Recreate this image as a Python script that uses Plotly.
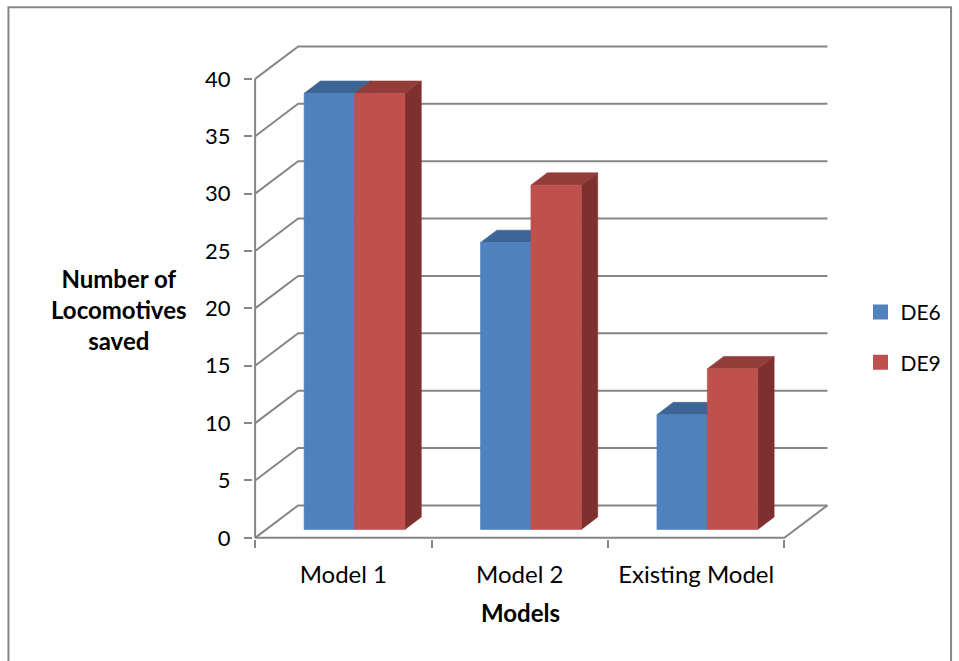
import plotly.graph_objects as go

# ---- data ----
categories = ["Model 1", "Model 2", "Existing Model"]
series_names = ["DE6", "DE9"]
de6_values = [38, 25, 10]
de9_values = [38, 30, 14]
y_ticks = [0, 5, 10, 15, 20, 25, 30, 35, 40]

# ---- styling ----
FONT = "Lato, 'Open Sans', sans-serif"
GRID = "#868686"
face_colors = {
    "DE6": {"front": "#4F81BD", "top": "#3C6595", "side": "#2F4E74"},
    "DE9": {"front": "#C0504D", "top": "#943C3A", "side": "#7D302E"},
}

# oblique projection: depth z in [0, 1] shifts a point right and up
DX = 0.244   # category units for full floor depth
DY = 2.83    # value units for full floor depth
Z0, Z1 = 0.26, 0.64          # bar depth span
BAR_W = 1 / 3.5              # two bars + 150% gap per category
GAP = 0.75 * BAR_W

n_cat = len(categories)
y_max = y_ticks[-1]


def proj(x, v, z):
    return x + z * DX, v + z * DY


fig = go.Figure()


def add_poly(pts, color):
    xs = [p[0] for p in pts] + [pts[0][0]]
    ys = [p[1] for p in pts] + [pts[0][1]]
    fig.add_trace(go.Scatter(x=xs, y=ys, mode="lines", fill="toself",
                             fillcolor=color, line=dict(color=color, width=0.6),
                             hoverinfo="skip", showlegend=False))


def add_line(pts, width=2):
    fig.add_trace(go.Scatter(x=[p[0] for p in pts], y=[p[1] for p in pts],
                             mode="lines", line=dict(color=GRID, width=width),
                             hoverinfo="skip", showlegend=False))


# gridlines: side-wall diagonal followed by back-wall horizontal
for v in y_ticks:
    a = proj(0, v, 0)
    b = proj(0, v, 1)
    c = proj(n_cat, v, 1)
    add_line([a, b, c])

# floor outline and front axes
add_line([proj(0, 0, 0), proj(n_cat, 0, 0), proj(n_cat, 0, 1)])
add_line([proj(0, 0, 0), proj(0, y_max, 0)])

# bars
for i in range(n_cat):
    for k, (name, vals) in enumerate([("DE6", de6_values), ("DE9", de9_values)]):
        v = vals[i]
        x0 = i + GAP + k * BAR_W
        x1 = x0 + BAR_W
        col = face_colors[name]
        # right side
        add_poly([proj(x1, 0, Z0), proj(x1, 0, Z1), proj(x1, v, Z1), proj(x1, v, Z0)], col["side"])
        # top
        add_poly([proj(x0, v, Z0), proj(x1, v, Z0), proj(x1, v, Z1), proj(x0, v, Z1)], col["top"])
        # front
        add_poly([proj(x0, 0, Z0), proj(x1, 0, Z0), proj(x1, v, Z0), proj(x0, v, Z0)], col["front"])

# legend entries
for k, name in enumerate(series_names):
    fig.add_trace(go.Scatter(x=[None], y=[None], mode="markers", name=name,
                             legendgroup=name,
                             marker=dict(symbol="square", size=15,
                                         color=face_colors[name]["front"])))

# ---- pixel layout of the plot area ----
W, H = 959, 661
PX_X0, PX_PER_CAT = 255.0, 176.3      # front category axis
PX_Y0, PX_PER_VAL = 538.0, 11.475     # front value axis
x_range = [-0.012, 3.27]
y_range = [-0.1, 43.3]
left = PX_X0 + x_range[0] * PX_PER_CAT
right = PX_X0 + x_range[1] * PX_PER_CAT
bottom = PX_Y0 - y_range[0] * PX_PER_VAL
top = PX_Y0 - y_range[1] * PX_PER_VAL
pw, ph = right - left, bottom - top


def paper_x(px):
    return (px - left) / pw


def paper_y(py):
    return (bottom - py) / ph


fig.update_layout(
    width=W, height=H,
    margin=dict(l=left, r=W - right, t=top, b=H - bottom, pad=0, autoexpand=False),
    paper_bgcolor="white", plot_bgcolor="white",
    font=dict(family=FONT, color="#000000"),
    showlegend=True,
    legend=dict(x=paper_x(860), y=paper_y(292), xanchor="left", yanchor="top",
                font=dict(size=21, family=FONT), tracegroupgap=20,
                itemwidth=30, bgcolor="rgba(0,0,0,0)"),
    xaxis=dict(range=x_range, showgrid=False, zeroline=False, showline=False,
               tickmode="array", tickvals=[i + 0.5 for i in range(n_cat)],
               ticktext=categories, ticks="", ticklabelstandoff=19,
               tickfont=dict(size=24, family=FONT, color="#000"),
               minor=dict(tickmode="array", tickvals=list(range(n_cat + 1)),
                          ticks="outside", ticklen=8, tickwidth=2, tickcolor=GRID,
                          showgrid=False),
               fixedrange=True),
    yaxis=dict(range=y_range, showgrid=False, zeroline=False, showline=False,
               tickmode="array", tickvals=y_ticks, ticktext=[str(t) for t in y_ticks],
               ticks="outside", ticklen=8, tickwidth=2, tickcolor=GRID,
               ticklabelstandoff=9,
               tickfont=dict(size=22, family=FONT, color="#000"),
               fixedrange=True),
    annotations=[
        dict(text="<b>Number of<br>Locomotives<br>saved</b>", xref="paper", yref="paper",
             x=paper_x(119), y=paper_y(310), xanchor="center", yanchor="middle",
             showarrow=False, align="center",
             font=dict(size=24, family=FONT, color="#000")),
        dict(text="<b>Models</b>", xref="paper", yref="paper",
             x=paper_x(520), y=paper_y(613), xanchor="center", yanchor="middle",
             showarrow=False, font=dict(size=24, family=FONT, color="#000")),
    ],
    shapes=[
        dict(type="rect", xref="paper", yref="paper", layer="below",
             x0=paper_x(8.5), x1=paper_x(950.5), y0=paper_y(680), y1=paper_y(7.5),
             line=dict(color=GRID, width=2), fillcolor="rgba(0,0,0,0)"),
    ],
)

fig.write_html("out.html")
